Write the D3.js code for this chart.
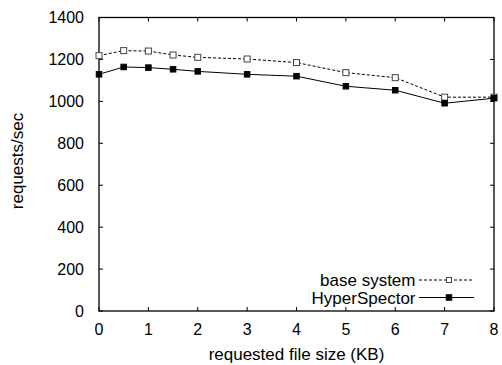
<!DOCTYPE html>
<html>
<head>
<meta charset="utf-8">
<script src="https://cdn.jsdelivr.net/npm/d3@7"></script>
<style>
  body { margin: 0; background: #fff; }
  text { font-family: "Liberation Sans", Arial, sans-serif; fill: #000; }
</style>
</head>
<body>
<svg id="chart" width="502" height="365"></svg>
<script>
var fileSizes = [0, 0.5, 1, 1.5, 2, 3, 4, 5, 6, 7, 8];
var baseSystem = [1218, 1242, 1240, 1221, 1210, 1202, 1185, 1137, 1113, 1020, 1020];
var hyperSpector = [1129, 1164, 1161, 1153, 1143, 1129, 1120, 1072, 1053, 991, 1015];
var xTicks = [0, 1, 2, 3, 4, 5, 6, 7, 8];
var yTicks = [0, 200, 400, 600, 800, 1000, 1200, 1400];

var svg = d3.select('#chart');
var margin = {left: 99, right: 8, top: 17.5, bottom: 54},
    W = 502, H = 365,
    x = d3.scaleLinear().domain([0, 8]).range([margin.left, W - margin.right]),
    y = d3.scaleLinear().domain([0, 1400]).range([H - margin.bottom, margin.top]);

var tickLen = 4;

// mirrored inward ticks on all four sides
var g = svg.append('g').attr('stroke', '#000').attr('stroke-width', 1);
xTicks.forEach(function(t) {
    g.append('line').attr('x1', x(t)).attr('x2', x(t)).attr('y1', y(0)).attr('y2', y(0) - tickLen);
    g.append('line').attr('x1', x(t)).attr('x2', x(t)).attr('y1', y(1400)).attr('y2', y(1400) + tickLen);
});
yTicks.forEach(function(t) {
    g.append('line').attr('x1', x(0)).attr('x2', x(0) + tickLen).attr('y1', y(t)).attr('y2', y(t));
    g.append('line').attr('x1', x(8)).attr('x2', x(8) - tickLen).attr('y1', y(t)).attr('y2', y(t));
});

svg.append('rect')
    .attr('x', x(0)).attr('y', y(1400))
    .attr('width', x(8) - x(0)).attr('height', y(0) - y(1400))
    .attr('fill', 'none').attr('stroke', '#000').attr('stroke-width', 1.3);

svg.selectAll('text.xt').data(xTicks).enter().append('text')
    .attr('class', 'xt')
    .attr('x', function(d) { return x(d); })
    .attr('y', y(0) + 24)
    .attr('text-anchor', 'middle')
    .attr('font-size', 16)
    .text(function(d) { return d; });

svg.selectAll('text.yt').data(yTicks).enter().append('text')
    .attr('class', 'yt')
    .attr('x', x(0) - 15)
    .attr('y', function(d) { return y(d) + 5.5; })
    .attr('text-anchor', 'end')
    .attr('font-size', 16)
    .text(function(d) { return d; });

svg.append('text')
    .attr('x', (x(0) + x(8)) / 2)
    .attr('y', 360)
    .attr('text-anchor', 'middle')
    .attr('font-size', 17)
    .text('requested file size (KB)');

svg.append('text')
    .attr('transform', 'translate(23,161) rotate(-90)')
    .attr('text-anchor', 'middle')
    .attr('font-size', 17)
    .text('requests/sec');

var line = d3.line()
    .x(function(d) { return x(d[0]); })
    .y(function(d) { return y(d[1]); });

var series = [
    {name: 'base system', values: baseSystem, dash: '3,2', stroke: '#000', fill: '#fff', markStroke: '#444', size: 6, legSize: 5},
    {name: 'HyperSpector', values: hyperSpector, dash: null, stroke: '#000', fill: '#000', markStroke: '#000', size: 5.5, legSize: 5.5}
];

series.forEach(function(s, i) {
    var pts = fileSizes.map(function(f, k) { return [f, s.values[k]]; });
    svg.append('path')
        .datum(pts)
        .attr('d', line)
        .attr('fill', 'none')
        .attr('stroke', s.stroke)
        .attr('stroke-width', 1)
        .attr('stroke-dasharray', s.dash);
    svg.selectAll('rect.m' + i).data(pts).enter().append('rect')
        .attr('class', 'm' + i)
        .attr('x', function(d) { return x(d[0]) - s.size / 2; })
        .attr('y', function(d) { return y(d[1]) - s.size / 2; })
        .attr('width', s.size).attr('height', s.size)
        .attr('fill', s.fill)
        .attr('stroke', s.markStroke)
        .attr('stroke-width', 1);

    // legend entry
    var ly = 280 + i * 17.5;
    svg.append('text')
        .attr('x', 415.5)
        .attr('y', ly + 6)
        .attr('text-anchor', 'end')
        .attr('font-size', 17)
        .text(s.name);
    svg.append('line')
        .attr('x1', 419).attr('x2', 474).attr('y1', ly).attr('y2', ly)
        .attr('stroke', s.stroke).attr('stroke-width', 1)
        .attr('stroke-dasharray', s.dash);
    svg.append('rect')
        .attr('x', 449 - s.legSize / 2).attr('y', ly - s.legSize / 2)
        .attr('width', s.legSize).attr('height', s.legSize)
        .attr('fill', s.fill).attr('stroke', s.markStroke).attr('stroke-width', 1);
});
</script>
</body>
</html>
